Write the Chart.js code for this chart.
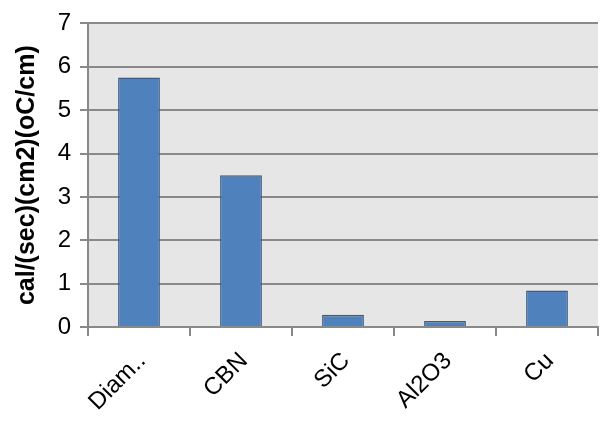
<!DOCTYPE html>
<html lang="en">
<head>
    <meta charset="UTF-8">
    <script src="https://cdn.jsdelivr.net/npm/chart.js"></script>
    <style>
        body{ margin:0; background:#fff; }
    </style>
    <title>Thermal conductivity</title>
</head>
<body>
    <canvas id="myChart" width="602" height="425"></canvas>

    <script>
        // data
        const materials = ['Diam..', 'CBN', 'SiC', 'Al2O3', 'Cu'];
        const conductivity = [5.75, 3.5, 0.28, 0.14, 0.84];
        const yTitle = 'cal/(sec)(cm2)(oC/cm)';

        const gridGray = '#898989';
        const fontFam = '"Liberation Sans", Arial, sans-serif';

        // gray plot background
        const plotBg = {
            id: 'plot_bg',
            beforeDraw: (chart) => {
                const ctx = chart.ctx;
                const a = chart.chartArea;
                ctx.save();
                ctx.fillStyle = '#e6e6e6';
                ctx.fillRect(a.left, a.top, a.right - a.left, a.bottom - a.top);
                ctx.restore();
            }
        };

        const config = {
            type: 'bar',
            data: {
                labels: materials,
                datasets: [{
                    data: conductivity,
                    backgroundColor: '#4f81bd',
                    borderColor: '#385d8a',
                    borderWidth: 1.5,
                    barPercentage: 0.41,
                    categoryPercentage: 1.0
                }]
            },
            plugins: [plotBg],
            options: {
                responsive: false,
                animation: false,
                layout: {
                    padding: {top: 19, right: 4, left: 0, bottom: 0}
                },
                plugins: {
                    legend: {display: false},
                    tooltip: {enabled: false}
                },
                scales: {
                    x: {
                        offset: true,
                        grid: {
                            offset: true,
                            drawOnChartArea: false,
                            color: gridGray,
                            lineWidth: 2,
                            tickLength: 9
                        },
                        border: {display: true, color: gridGray, width: 2},
                        ticks: {
                            color: '#000',
                            font: {family: fontFam, size: 24},
                            minRotation: 45,
                            maxRotation: 45,
                            padding: 11,
                            labelOffset: 3,
                            autoSkip: false
                        },
                        afterFit: (axis) => { axis.height = 98; }
                    },
                    y: {
                        min: 0,
                        max: 7,
                        ticks: {
                            stepSize: 1,
                            color: '#000',
                            font: {family: fontFam, size: 24},
                            padding: 9
                        },
                        grid: {
                            color: gridGray,
                            lineWidth: 2,
                            tickLength: 8
                        },
                        border: {display: true, color: gridGray, width: 2},
                        title: {
                            display: true,
                            text: yTitle,
                            color: '#000',
                            font: {family: fontFam, size: 25, weight: 'bold'},
                            padding: {top: 12, bottom: 0}
                        },
                        afterFit: (axis) => { axis.width = 88; }
                    }
                }
            }
        };

        const myChart = new Chart(document.getElementById('myChart').getContext('2d'), config);
    </script>
</body>
</html>
